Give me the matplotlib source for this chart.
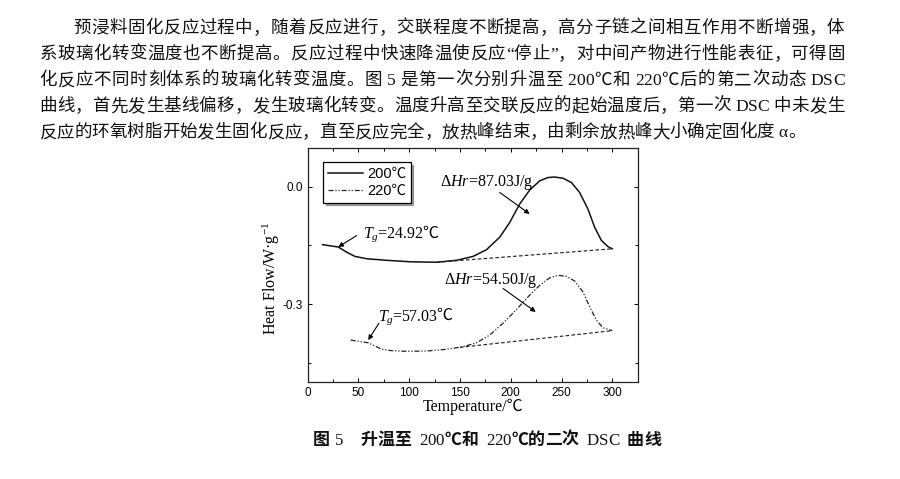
import matplotlib
matplotlib.use('Agg')
import matplotlib.pyplot as plt
from matplotlib.transforms import IdentityTransform
from matplotlib.ticker import MultipleLocator, FixedLocator
from matplotlib.lines import Line2D
from matplotlib import font_manager
from matplotlib.ft2font import FT2Font

plt.rcParams['font.family'] = ['Liberation Sans', 'Noto Sans CJK SC']
plt.rcParams['axes.unicode_minus'] = False
plt.rcParams['mathtext.fontset'] = 'custom'
plt.rcParams['mathtext.rm'] = 'Liberation Serif'
plt.rcParams['mathtext.it'] = 'Liberation Serif:italic'
plt.rcParams['mathtext.bf'] = 'Liberation Serif:bold'

# ---------------- data ----------------
t200 = [14.7, 30.1, 38.3, 46.5, 58, 77.7, 100.6, 126.9, 146.6, 162.9, 176, 189.1,
        199, 208.8, 218.6, 228.5, 236.7, 243.2, 251.4, 259.7, 267.8, 276, 282.6,
        289.2, 295.7, 300]
h200 = [-0.148, -0.154, -0.167, -0.178, -0.184, -0.188, -0.1917, -0.193, -0.188,
        -0.178, -0.161, -0.129, -0.091, -0.044, -0.0085, 0.0153, 0.0237, 0.025,
        0.022, 0.011, -0.0145, -0.057, -0.1035, -0.137, -0.153, -0.1586]
base200_t = [126.9, 300]
base200_h = [-0.193, -0.1586]

t220 = [42.3, 59.6, 66.2, 72.8, 82.6, 97.4, 117, 136.7, 153, 166.2, 179.3, 192.4,
        205.6, 218.6, 228.5, 238.3, 246.5, 254.7, 262.9, 271.1, 277.7, 284.3,
        290.8, 300]
h220 = [-0.392, -0.399, -0.407, -0.4156, -0.419, -0.4207, -0.420, -0.4156, -0.409,
        -0.399, -0.379, -0.349, -0.314, -0.277, -0.252, -0.233, -0.2265, -0.229,
        -0.241, -0.269, -0.307, -0.341, -0.3605, -0.368]
base220_t = [150, 300]
base220_h = [-0.4106, -0.368]

series_labels = ['200℃', '220℃']
x_ticks = [0, 50, 100, 150, 200, 250, 300]
x_tick_labels = ['0', '50', '100', '150', '200', '250', '300']
y_ticks = [0.0, -0.3]
y_tick_labels = ['0.0', '-0.3']
y_minor = [-0.45, -0.15]
x_label = 'Temperature/℃'
y_label = 'Heat Flow/W·g$^{-1}$'

dh1_text = r'$\Delta\mathit{Hr}$=87.03J/g'
dh2_text = r'$\Delta\mathit{Hr}$=54.50J/g'
tg1_value = '24.92'
tg2_value = '57.03'

paragraph = [
    "预浸料固化反应过程中，随着反应进行，交联程度不断提高，高分子链之间相互作用不断增强，体",
    "系玻璃化转变温度也不断提高。反应过程中快速降温使反应“停止”，对中间产物进行性能表征，可得固",
    "化反应不同时刻体系的玻璃化转变温度。图 5 是第一次分别升温至 200℃和 220℃后的第二次动态 DSC",
    "曲线，首先发生基线偏移，发生玻璃化转变。温度升高至交联反应的起始温度后，第一次 DSC 中未发生",
    "反应的环氧树脂开始发生固化反应，直至反应完全，放热峰结束，由剩余放热峰大小确定固化度 α。",
]
caption_label = "图 5"
caption_title = "升温至 200℃和 220℃的二次 DSC 曲线"

# ---------------- figure ----------------
W, H = 900, 479
DPI = 100
fig = plt.figure(figsize=(W / DPI, H / DPI), dpi=DPI)
fig.patch.set_facecolor('white')

ax = fig.add_axes([307.7 / W, 96.7 / H, 330 / W, 234.6 / H])
ax.set_xlim(0, 325)
ax.set_ylim(-0.5, 0.1)

ax.plot(t200, h200, color='#111111', lw=1.1, solid_joinstyle='round')
ax.plot(base200_t, base200_h, color='#222222', lw=0.85, dashes=(3, 2))
ax.plot(t220, h220, color='#222222', lw=0.9, dashes=(4, 1.5, 1, 1.5, 1, 1.5))
ax.plot(base220_t, base220_h, color='#222222', lw=0.85, dashes=(3, 2))

ax.set_xticks(x_ticks)
ax.set_xticklabels(x_tick_labels)
ax.xaxis.set_minor_locator(MultipleLocator(25))
ax.set_yticks(y_ticks)
ax.set_yticklabels(y_tick_labels)
ax.yaxis.set_minor_locator(FixedLocator(y_minor))
ax.tick_params(which='both', direction='in', top=True, right=True,
               colors='black', labelsize=8.5, width=0.7)
ax.tick_params(which='major', length=3.2, pad=3.5)
ax.tick_params(which='minor', length=2.2)
for sp in ax.spines.values():
    sp.set_linewidth(0.9)
    sp.set_color('#222222')

ax.text(0.5, -0.104, x_label, transform=ax.transAxes, ha='center', va='center',
        fontsize=11.5, family=['Liberation Serif', 'Noto Sans CJK SC'])
ax.text(-0.11, 0.445, y_label, transform=ax.transAxes, ha='center', va='center',
        rotation=90, fontsize=11.5, family='Liberation Serif')

handles = [Line2D([], [], color='#111111', lw=1.1),
           Line2D([], [], color='#222222', lw=0.9, dashes=(4, 1.5, 1, 1.5, 1, 1.5))]
leg = ax.legend(handles, series_labels, loc='upper left',
                bbox_to_anchor=(0.047, 0.938), frameon=True, fancybox=False,
                shadow={'ox': 2, 'oy': -2, 'color': '#555555'},
                edgecolor='black', framealpha=1, fontsize=10.5, handlelength=2.4,
                handletextpad=0.3, labelspacing=0.25, borderpad=0.3,
                borderaxespad=0)
leg.get_frame().set_linewidth(0.9)

renderer = fig.canvas.get_renderer()

# annotations (text anchors: left edge, baseline)
ANN_PT = 11.5
serif_fam = 'Liberation Serif'

def tg_label(x, y, value):
    px, py = ax.transData.transform((x, y))
    t = ax.text(px, py, r'$T_g$=' + value, transform=IdentityTransform(),
                ha='left', va='baseline', fontsize=ANN_PT, family=serif_fam)
    bb = t.get_window_extent(renderer)
    ax.text(bb.x1 - 1.5, py, '℃', transform=IdentityTransform(), ha='left',
            va='baseline', fontsize=ANN_PT, family=['Noto Sans CJK SC'])

ax.text(130.1, 0.0025, dh1_text, ha='left', va='baseline', fontsize=ANN_PT,
        family=serif_fam)
ax.text(134.1, -0.2476, dh2_text, ha='left', va='baseline', fontsize=ANN_PT,
        family=serif_fam)
tg_label(54.4, -0.1306, tg1_value)
tg_label(69.1, -0.341, tg2_value)

arrow_kw = dict(arrowstyle='-|>', color='black', lw=0.8, mutation_scale=7,
                shrinkA=0, shrinkB=0)
ax.annotate('', xy=(218.6, -0.0695), xytext=(189.1, -0.0145), arrowprops=arrow_kw)
ax.annotate('', xy=(30.1, -0.154), xytext=(48.2, -0.1247), arrowprops=arrow_kw)
ax.annotate('', xy=(224.6, -0.320), xytext=(192.4, -0.260), arrowprops=arrow_kw)
ax.annotate('', xy=(59.6, -0.392), xytext=(70.1, -0.349), arrowprops=arrow_kw)

# ---------------- paragraph text ----------------
serif_path = font_manager.findfont(font_manager.FontProperties(family='Liberation Serif'))
serif_ft = FT2Font(serif_path)

def is_latin(c):
    return ord(c) < 128 or c in 'α“”'

def advance(c, pt, space_em=None):
    em = pt * DPI / 72.0
    if c == ' ' and space_em is not None:
        return space_em * em
    if is_latin(c):
        serif_ft.set_size(pt, DPI)
        g = serif_ft.load_char(ord(c))
        return g.linearHoriAdvance / 65536.0
    return em

def draw_chars(chars, xs, base_top, pt, cjk_weight='normal', color='#111111'):
    for c, x in zip(chars, xs):
        if c == ' ':
            continue
        if is_latin(c):
            fam, wt = 'Liberation Serif', 'normal'
        else:
            fam, wt = 'Noto Sans CJK SC', cjk_weight
        fig.text(x, H - base_top, c, transform=IdentityTransform(), ha='left',
                 va='baseline', fontsize=pt, family=fam, weight=wt, color=color)

def layout_line(line, x0, x1, pt, justify, space_em=None):
    chars = list(line)
    advs = [advance(c, pt, space_em) for c in chars]
    elig = [not (is_latin(chars[i]) and is_latin(chars[i + 1]))
            for i in range(len(chars) - 1)]
    extra = 0.0
    if justify and any(elig):
        extra = (x1 - x0 - sum(advs)) / sum(elig)
    xs = []
    x = x0
    for i, c in enumerate(chars):
        xs.append(x)
        x += advs[i]
        if i < len(chars) - 1 and elig[i]:
            x += extra
    return chars, xs

PARA_PT = 12.6
em_px = PARA_PT * DPI / 72.0
for i, line in enumerate(paragraph):
    x0 = 73.3 if i == 0 else 39.3
    justify = i < len(paragraph) - 1
    chars, xs = layout_line(line, x0, 844.5, PARA_PT, justify)
    center = 26 + 26.2 * i
    draw_chars(chars, xs, center + 0.38 * em_px, PARA_PT)

# caption
CAP_PT = 12.2
cap_em = CAP_PT * DPI / 72.0
cap_base = 438.3 + 0.38 * cap_em
chars, xs = layout_line(caption_label, 312.5, 0, CAP_PT, False, space_em=0.3)
draw_chars(chars, xs, cap_base, CAP_PT, cjk_weight='bold', color='#111111')
chars, xs = layout_line(caption_title, 360.5, 0, CAP_PT, False, space_em=0.45)
draw_chars(chars, xs, cap_base, CAP_PT, cjk_weight='bold', color='#111111')

fig.savefig('out.png', dpi=DPI, facecolor='white')
